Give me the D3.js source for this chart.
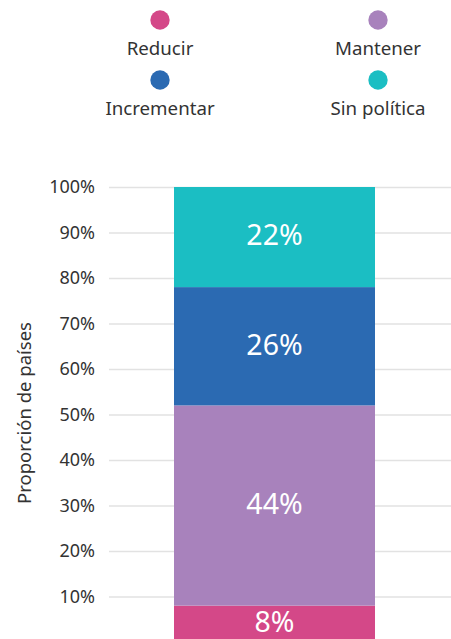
<!DOCTYPE html>
<html>
<head>
<meta charset="utf-8">
<script src="https://cdn.jsdelivr.net/npm/d3@7"></script>
<style>
  body { margin: 0; background: #fff; }
  svg { display: block; font-family: "Noto Sans", sans-serif; }
</style>
</head>
<body>
<div id="chart"></div>
<script>
const W = 451;
const H = 639;

// data
const categories = ["Reducir", "Mantener", "Incrementar", "Sin política"];
const values = [8, 44, 26, 22];
const colors = ["#d44888", "#a882bc", "#2b6ab2", "#1bbec3"];
const yTicks = [0.1, 0.2, 0.3, 0.4, 0.5, 0.6, 0.7, 0.8, 0.9, 1.0];

const svg = d3.select("#chart").append("svg")
  .attr("width", W)
  .attr("height", H);

const y = d3.scaleLinear().domain([0, 1]).range([642, 187]);
const BAR_X = 174, BAR_W = 201;

// legend (2 cols, 2 rows)
const legendCols = d3.scaleOrdinal().domain([0, 1]).range([160, 378]);
const legend = svg.selectAll("g.legend")
  .data(categories)
  .enter()
  .append("g")
  .attr("class", "legend")
  .attr("transform", (d, i) => `translate(${legendCols(i % 2)},${20 + Math.floor(i / 2) * 60})`);
legend.append("circle")
  .attr("r", 9.7)
  .attr("fill", (d, i) => colors[i]);
legend.append("text")
  .text(d => d)
  .attr("y", 35)
  .attr("text-anchor", "middle")
  .attr("font-size", 18.7)
  .attr("fill", "#333");

// gridlines + tick labels
const yAxis = d3.axisLeft(y)
  .tickValues(yTicks)
  .tickFormat(d3.format(".0%"))
  .tickSize(-(451 - 109))
  .tickPadding(14);
const gy = svg.append("g")
  .attr("transform", "translate(109,0)")
  .call(yAxis);
gy.select(".domain").remove();
gy.selectAll(".tick line").attr("stroke", "#e2e2e2").attr("stroke-width", 1.5);
gy.selectAll(".tick text")
  .attr("font-size", 18)
  .attr("fill", "#333")
  .attr("font-family", "Noto Sans, sans-serif");

// axis title
svg.append("text")
  .text("Proporción de países")
  .attr("transform", "translate(31,413) rotate(-90)")
  .attr("text-anchor", "middle")
  .attr("font-size", 18.5)
  .attr("fill", "#333");

// stacked bar
const row = {};
categories.forEach((c, i) => row[c] = values[i] / 100);
const stack = d3.stack().keys(categories)([row]);

const seg = svg.selectAll("g.seg")
  .data(stack)
  .enter()
  .append("g")
  .attr("class", "seg");
seg.append("rect")
  .attr("x", BAR_X)
  .attr("width", BAR_W)
  .attr("y", d => y(d[0][1]))
  .attr("height", d => y(d[0][0]) - y(d[0][1]))
  .attr("fill", (d, i) => colors[i]);
seg.append("text")
  .text((d, i) => values[i] + "%")
  .attr("x", BAR_X + BAR_W / 2)
  .attr("y", d => (y(d[0][0]) + y(d[0][1])) / 2 - 2)
  .attr("dy", "0.36em")
  .attr("text-anchor", "middle")
  .attr("font-size", 28.5)
  .attr("fill", "#fff");
</script>
</body>
</html>
